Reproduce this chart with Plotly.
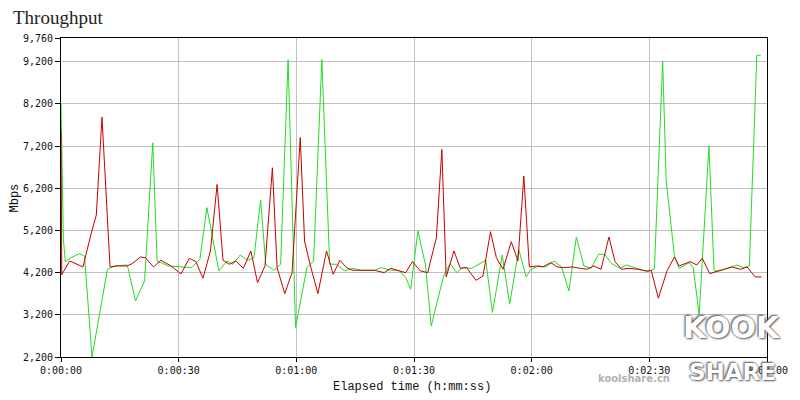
import plotly.graph_objects as go

# ---- data (seconds, Mbps) ----
green_t = [0, 0.6, 1.1, 2.6, 4.7, 6.0, 7.9, 11.85, 13.7, 16.9, 19.0, 21.3, 23.4, 24.5, 27.4,
           30.5, 33.3, 35.4, 37.2, 40.25, 42.3, 43.8, 45.7, 47.6, 49.2, 50.9, 52.2, 54.3, 56.0,
           57.9, 59.8, 62.7, 64.4, 66.5, 68.5, 70.25, 72.35, 74.45, 76.55, 79.9, 81.6, 84.1,
           86.2, 87.9, 89.15, 91.0, 92.9, 94.4, 97.55, 99.2, 100.9, 102.4, 104.7, 108.3, 110.0,
           112.5, 114.4, 116.7, 118.6, 119.8, 121.9, 123.6, 125.7, 127.6, 129.5, 131.4, 133.3,
           135.2, 137.05, 138.6, 140.4, 142.5, 144.2, 146.7, 149.65, 151.3, 153.4, 154.3, 156.4,
           157.6, 160.2, 161.2, 162.7, 165.2, 166.5, 168.1, 170.65, 172.3, 174.0, 175.5, 177.4,
           178.4]
green_v = [8200, 5000, 4460, 4555, 4650, 4594, 2200, 4280, 4358, 4381, 3530, 4003, 7275, 4476, 4358,
           4334, 4318, 4515, 5738, 4240, 4476, 4397, 4618, 4492, 4555, 5919, 4397, 4255, 4397,
           9247, 2900, 4318, 4476, 9250, 4400, 4397, 4240, 4302, 4255, 4255, 4318, 4255,
           4255, 4082, 3806, 5190, 4397, 2938, 4121, 4413, 4200, 4318, 4302, 4492, 3254,
           4618, 3451, 4752, 4097, 4279, 4358, 4334, 4476, 4334, 3766, 5044, 4358,
           4302, 4634, 4634, 4413, 4302, 4381, 4302, 4224, 4290, 9208, 6369, 4594,
           4302, 4437, 4318, 3200, 7197, 4240, 4240, 4334, 4381, 4318, 4358, 9350,
           9350]

red_t = [0, 0.2, 2.2, 3.9, 5.6, 7.7, 9.0, 10.45, 12.5, 14.2, 16.9, 18.15, 20.25, 21.5, 23.6,
         25.46, 27.8, 30.6, 32.7, 34.4, 36.2, 38.1, 39.8, 41.3, 42.9, 44.6, 46.5, 48.4, 50.1,
         52.0, 53.9, 55.1, 57.05, 58.9, 61.0, 62.1, 63.5, 65.5, 67.7, 69.4, 71.1, 72.8, 74.45,
         76.55, 79.9, 82.4, 84.1, 86.2, 87.9, 89.6, 91.6, 93.5, 95.7, 97.1, 98.2, 100.2, 101.8,
         103.4, 105.8, 107.6, 109.5, 111.0, 112.7, 114.8, 116.5, 118.0, 119.4, 121.25, 122.8,
         124.9, 126.5, 128.2, 130.3, 132.4, 134.1, 135.8, 137.7, 139.7, 141.25, 142.9, 144.6,
         147.1, 149.2, 150.5, 152.3, 154.5, 156.4, 157.6, 158.9, 160.4, 162.1, 163.5, 165.4,
         167.3, 169.0, 171.1, 173.2, 174.9, 177.0, 178.6]
red_v = [7550, 4150, 4476, 4413, 4334, 5130, 5565, 7885, 4334, 4358, 4358, 4413, 4570, 4555, 4334,
         4492, 4373, 4170, 4539, 4460, 4066, 4713, 6290, 4492, 4397, 4476, 4302, 4713, 3963,
         4358, 6684, 4318, 3703, 4200, 7400, 4949, 4397, 3703, 4713, 4160, 4492, 4318, 4255,
         4255, 4255, 4200, 4302, 4240, 4200, 4460, 4240, 4200, 5028, 7118, 4097, 4713, 4302,
         4318, 4018, 4121, 5170, 4555, 4279, 4933, 4476, 6487, 4334, 4358, 4334,
         4437, 4334, 4318, 4334, 4302, 4279, 4358, 4279, 5044, 4460, 4279, 4302,
         4279, 4240, 4250, 3593, 4240, 4570, 4358, 4413, 4460, 4381, 4539, 4176,
         4240, 4279, 4334, 4279, 4334, 4097, 4097]

x_tickvals = [0, 30, 60, 90, 120, 150, 180]
x_ticktext = ["0:00:00", "0:00:30", "0:01:00", "0:01:30", "0:02:00", "0:02:30", "0:03:00"]
y_tickvals = [2200, 3200, 4200, 5200, 6200, 7200, 8200, 9200, 9760]
y_ticktext = ["2,200", "3,200", "4,200", "5,200", "6,200", "7,200", "8,200", "9,200", "9,760"]

fig = go.Figure()
fig.add_trace(go.Scatter(x=green_t, y=green_v, mode="lines",
                         line=dict(color="#22dd22", width=1), showlegend=False))
fig.add_trace(go.Scatter(x=red_t, y=red_v, mode="lines",
                         line=dict(color="#c80000", width=1), showlegend=False))

# page has an 8px body margin; work in page pixels and shift
OFF = 8
W, H = 800 - OFF, 400 - OFF
L, T = 61 - OFF, 38 - OFF
pw, ph = 775 - 61, 357 - 38
R, B = W - L - pw, H - T - ph

def px(p):
    return (p - 61) / pw

def py(q):
    return (357 - q) / ph

mono = "DejaVu Sans Mono"
fig.update_layout(
    width=W, height=H,
    margin=dict(l=L, r=R, t=T, b=B),
    paper_bgcolor="white", plot_bgcolor="white",
    xaxis=dict(range=[0, 180], tickvals=x_tickvals, ticktext=x_ticktext,
               showgrid=True, gridcolor="#c0c0c0", gridwidth=1,
               showline=True, linecolor="black", linewidth=1, mirror=True,
               ticks="outside", ticklen=4, tickcolor="black", zeroline=False,
               tickfont=dict(family=mono, size=10, color="#111"), layer="below traces"),
    yaxis=dict(range=[2200, 9760], tickvals=y_tickvals, ticktext=y_ticktext,
               showgrid=True, gridcolor="#c0c0c0", gridwidth=1,
               showline=True, linecolor="black", linewidth=1, mirror=True,
               ticks="outside", ticklen=5, tickcolor="black", zeroline=False,
               tickfont=dict(family=mono, size=10, color="#111"), layer="below traces"),
    annotations=[
        dict(text="Throughput", xref="paper", yref="paper", x=px(10), y=py(18),
             xanchor="left", yanchor="middle", showarrow=False,
             font=dict(family="Liberation Serif", size=19, color="#222")),
        dict(text="Elapsed time (h:mm:ss)", xref="paper", yref="paper", x=px(416), y=py(387),
             xanchor="center", yanchor="middle", showarrow=False,
             font=dict(family="Liberation Mono", size=12, color="#111")),
        dict(text="Mbps", xref="paper", yref="paper", x=px(14), y=py(198), textangle=-90,
             xanchor="center", yanchor="middle", showarrow=False,
             font=dict(family="Liberation Mono", size=12, color="#111")),
        dict(text="<b>koolshare.cn</b>", xref="paper", yref="paper", x=px(640), y=py(378),
             xanchor="center", yanchor="middle", showarrow=False,
             font=dict(family="DejaVu Sans", size=10, color="#b0b0b0")),
        dict(text="<b>KOOK</b>", xref="paper", yref="paper", x=px(740), y=py(327),
             xanchor="center", yanchor="middle", showarrow=False,
             font=dict(family="DejaVu Sans", size=30, color="white",
                       shadow="1px 1px 2px #555, -1px -1px 2px #555")),
        dict(text="<b>SHARE</b>", xref="paper", yref="paper", x=px(740), y=py(372),
             xanchor="center", yanchor="middle", showarrow=False,
             font=dict(family="DejaVu Sans", size=23, color="white",
                       shadow="1px 1px 2px #555, -1px -1px 2px #555")),
    ],
)

fig.write_html("out.html")
